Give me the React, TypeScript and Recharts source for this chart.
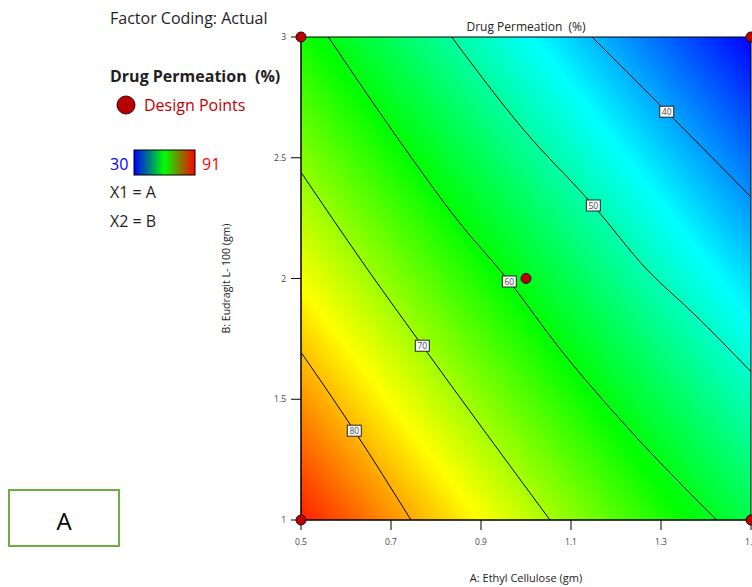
import React from 'react';
import { ComposedChart, XAxis, YAxis, Scatter, ReferenceArea, Label } from 'recharts';

const FONT = '"Open Sans", "Noto Sans", "DejaVu Sans", sans-serif';

// Axis ticks
const xTicks = [0.5, 0.7, 0.9, 1.1, 1.3, 1.5];
const yTicks = [1, 1.5, 2, 2.5, 3];

// Contour lines (A: Ethyl Cellulose, B: Eudragit L-100)
const contour40 = [
  { x: 1.1467, y: 3.0 },
  { x: 1.3127, y: 2.6907 },
  { x: 1.5, y: 2.3375 },
];
const contour50 = [
  { x: 0.8349, y: 3.0 },
  { x: 0.9933, y: 2.619 },
  { x: 1.1496, y: 2.3023 },
  { x: 1.2696, y: 2.0352 },
  { x: 1.3718, y: 1.8559 },
  { x: 1.5, y: 1.6141 },
];
const contour60 = [
  { x: 0.5607, y: 3.0 },
  { x: 0.7333, y: 2.5321 },
  { x: 0.8473, y: 2.2422 },
  { x: 0.9629, y: 1.9876 },
  { x: 1.0756, y: 1.7081 },
  { x: 1.2238, y: 1.3863 },
  { x: 1.4238, y: 1.0 },
];
const contour70 = [
  { x: 0.5016, y: 2.4356 },
  { x: 0.6489, y: 2.0352 },
  { x: 0.7696, y: 1.7217 },
  { x: 1.0533, y: 1.0 },
];
const contour80 = [
  { x: 0.5016, y: 1.6903 },
  { x: 0.6184, y: 1.3698 },
  { x: 0.7444, y: 1.0 },
];

// Contour labels
const contourLevels = [40, 50, 60, 70, 80];
const labelX = [1.3127, 1.1496, 0.9629, 0.7696, 0.6184];
const labelY = [2.6907, 2.3023, 1.9876, 1.7217, 1.3698];

// Design points
const designX = [0.5, 0.5, 1.5, 1.5, 1.0];
const designY = [1, 3, 1, 3, 2];

// Colour scale range
const scaleMin = 30;
const scaleMax = 91;

const labelData = contourLevels.map((lv, i) => ({ x: labelX[i], y: labelY[i], level: lv }));
const designData = designX.map((x, i) => ({ x, y: designY[i] }));
const contours = [contour40, contour50, contour60, contour70, contour80];

const NoShape = () => <g />;

const ContourLabel = (props: any) => {
  const { cx, cy, payload } = props;
  return (
    <g>
      <rect x={cx - 7} y={cy - 5.5} width={14} height={11} fill="#ffffff" stroke="#222" strokeWidth={1} />
      <text x={cx} y={cy + 3.2} textAnchor="middle" fontSize={8.5} fill="#444" fontFamily={FONT}>
        {payload.level}
      </text>
    </g>
  );
};

const DesignPoint = (props: any) => {
  const { cx, cy } = props;
  return <circle cx={cx} cy={cy} r={5} fill="#b80000" stroke="#3a0000" strokeWidth={1} />;
};

export default function App() {
  const textColor = '#1e1e1e';
  return (
    <div style={{ position: 'absolute', left: 0, top: 0, width: 752, height: 587, background: '#fff', fontFamily: FONT }}>
      <div style={{ position: 'absolute', left: 0, top: 0 }}>
        <ComposedChart width={752} height={587} margin={{ top: 37, right: 1, bottom: 0, left: 221 }}>
          <defs>
            <linearGradient id="dpField" x1="0" y1="1" x2="1.086" y2="0.103">
              <stop offset="0" stopColor="#ff1e00" />
              <stop offset="0.218" stopColor="#ffff00" />
              <stop offset="0.469" stopColor="#00ff00" />
              <stop offset="0.734" stopColor="#00ffff" />
              <stop offset="1" stopColor="#0000ff" />
            </linearGradient>
          </defs>
          <XAxis
            type="number"
            dataKey="x"
            domain={[0.5, 1.5]}
            ticks={xTicks}
            interval={0}
            height={67}
            tickSize={10}
            tickMargin={9}
            axisLine={{ stroke: '#000' }}
            tickLine={{ stroke: '#000' }}
            tick={{ fontSize: 8.5, fill: '#444', fontFamily: FONT }}
          >
            <Label
              value="A: Ethyl Cellulose  (gm)"
              position="insideBottom"
              offset={5}
              style={{ fontSize: 11, fill: '#222', fontFamily: FONT, whiteSpace: 'pre' }}
            />
          </XAxis>
          <YAxis
            type="number"
            dataKey="y"
            domain={[1, 3]}
            ticks={yTicks}
            interval={0}
            width={80}
            tickSize={10}
            tickMargin={5}
            axisLine={{ stroke: '#000' }}
            tickLine={{ stroke: '#000' }}
            tick={{ fontSize: 8.5, fill: '#444', fontFamily: FONT }}
          >
            <Label
              value="B: Eudragit L- 100 (gm)"
              position="insideLeft"
              angle={-90}
              offset={5}
              style={{ fontSize: 10.5, fill: '#222', fontFamily: FONT, textAnchor: 'middle' }}
            />
          </YAxis>
          <ReferenceArea
            x1={0.5}
            x2={1.5}
            y1={1}
            y2={3}
            fill="url(#dpField)"
            fillOpacity={1}
            stroke="#000"
            strokeWidth={1}
          />
          {contours.map((c, i) => (
            <Scatter
              key={'c' + i}
              data={c}
              line={{ stroke: '#000', strokeWidth: 1 }}
              lineJointType="monotoneX"
              shape={NoShape}
              isAnimationActive={false}
            />
          ))}
          <Scatter data={labelData} shape={ContourLabel} isAnimationActive={false} />
          <Scatter data={designData} shape={DesignPoint} isAnimationActive={false} />
        </ComposedChart>
      </div>
      <svg
        width={752}
        height={587}
        style={{ position: 'absolute', left: 0, top: 0, pointerEvents: 'none' }}
      >
        <defs>
          <linearGradient id="legendBar" x1="0" y1="0" x2="1" y2="0">
            <stop offset="0" stopColor="#0000ff" />
            <stop offset="0.5" stopColor="#00ff00" />
            <stop offset="1" stopColor="#ff0000" />
          </linearGradient>
        </defs>
        <text x={526} y={31} textAnchor="middle" fontSize={12} fill="#222" fontFamily={FONT} style={{ whiteSpace: 'pre' }}>
          Drug Permeation  (%)
        </text>
        <text x={110} y={24} fontSize={16} fill={textColor} fontFamily={FONT}>
          Factor Coding: Actual
        </text>
        <text x={110} y={82} fontSize={16} fontWeight="bold" fill={textColor} fontFamily={FONT} style={{ whiteSpace: 'pre' }}>
          Drug Permeation  (%)
        </text>
        <circle cx={126} cy={105} r={9} fill="#b80000" stroke="#3a0000" strokeWidth={1} />
        <text x={144} y={111} fontSize={16} fill="#c00000" fontFamily={FONT}>
          Design Points
        </text>
        <text x={110} y={170} fontSize={16} fill="#0000ff" fontFamily={FONT}>
          {scaleMin}
        </text>
        <rect x={134} y={150} width={61} height={25} fill="url(#legendBar)" stroke="#000" strokeWidth={1} />
        <text x={202} y={170} fontSize={16} fill="#ff0000" fontFamily={FONT}>
          {scaleMax}
        </text>
        <text x={110} y={198} fontSize={16} fill={textColor} fontFamily={FONT}>
          X1 = A
        </text>
        <text x={110} y={227} fontSize={16} fill={textColor} fontFamily={FONT}>
          X2 = B
        </text>
        <rect x={9} y={490} width={110} height={56} fill="#fff" stroke="#70ad47" strokeWidth={2} />
        <text x={64} y={530} textAnchor="middle" fontSize={24} fill="#000" fontFamily={FONT}>
          A
        </text>
      </svg>
    </div>
  );
}
